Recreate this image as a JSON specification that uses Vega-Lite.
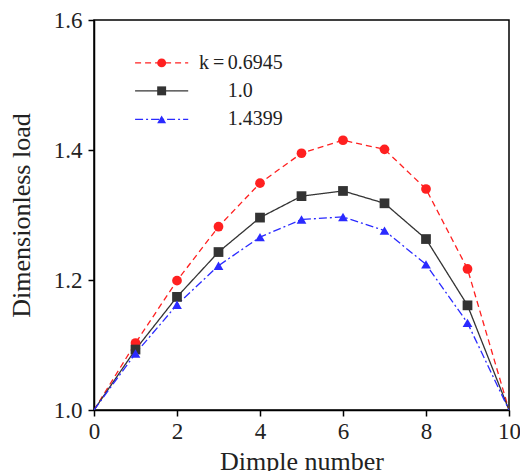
{
  "$schema": "https://vega.github.io/schema/vega-lite/v6.json",
  "width": 415,
  "height": 390,
  "autosize": {"type": "none"},
  "padding": {"left": 94, "top": 20, "right": 11, "bottom": 61},
  "background": "white",
  "config": {
    "font": "Liberation Serif",
    "view": {"stroke": "black", "strokeWidth": 1.5},
    "axis": {
      "grid": false,
      "ticks": true,
      "domainColor": "black",
      "domainWidth": 1.5,
      "tickColor": "black",
      "tickOpacity": 1,
      "tickWidth": 1.5,
      "tickSize": 6,
      "labelFlush": false,
      "labelFont": "Liberation Serif",
      "labelFontSize": 23,
      "labelColor": "#222",
      "titleFont": "Liberation Serif",
      "titleFontSize": 26,
      "titleFontWeight": "normal",
      "titleColor": "#222"
    }
  },
  "datasets": {
    "curves": [
      {"series": "0.6945", "dimple": 0, "load": 1.0},
      {"series": "0.6945", "dimple": 1, "load": 1.103},
      {"series": "0.6945", "dimple": 2, "load": 1.199},
      {"series": "0.6945", "dimple": 3, "load": 1.282},
      {"series": "0.6945", "dimple": 4, "load": 1.349},
      {"series": "0.6945", "dimple": 5, "load": 1.395},
      {"series": "0.6945", "dimple": 6, "load": 1.415},
      {"series": "0.6945", "dimple": 7, "load": 1.401},
      {"series": "0.6945", "dimple": 8, "load": 1.340},
      {"series": "0.6945", "dimple": 9, "load": 1.217},
      {"series": "0.6945", "dimple": 10, "load": 1.0},
      {"series": "1.0", "dimple": 0, "load": 1.0},
      {"series": "1.0", "dimple": 1, "load": 1.093},
      {"series": "1.0", "dimple": 2, "load": 1.174},
      {"series": "1.0", "dimple": 3, "load": 1.243},
      {"series": "1.0", "dimple": 4, "load": 1.296},
      {"series": "1.0", "dimple": 5, "load": 1.329},
      {"series": "1.0", "dimple": 6, "load": 1.337},
      {"series": "1.0", "dimple": 7, "load": 1.318},
      {"series": "1.0", "dimple": 8, "load": 1.263},
      {"series": "1.0", "dimple": 9, "load": 1.161},
      {"series": "1.0", "dimple": 10, "load": 1.0},
      {"series": "1.4399", "dimple": 0, "load": 1.0},
      {"series": "1.4399", "dimple": 1, "load": 1.087},
      {"series": "1.4399", "dimple": 2, "load": 1.162},
      {"series": "1.4399", "dimple": 3, "load": 1.222},
      {"series": "1.4399", "dimple": 4, "load": 1.266},
      {"series": "1.4399", "dimple": 5, "load": 1.293},
      {"series": "1.4399", "dimple": 6, "load": 1.297},
      {"series": "1.4399", "dimple": 7, "load": 1.276},
      {"series": "1.4399", "dimple": 8, "load": 1.224},
      {"series": "1.4399", "dimple": 9, "load": 1.134},
      {"series": "1.4399", "dimple": 10, "load": 1.0}
    ],
    "key": [
      {"series": "0.6945", "x1": 0.99, "x2": 2.27, "xm": 1.63, "y": 1.534, "label": "0.6945"},
      {"series": "1.0", "x1": 0.99, "x2": 2.27, "xm": 1.63, "y": 1.491, "label": "1.0"},
      {"series": "1.4399", "x1": 0.99, "x2": 2.27, "xm": 1.63, "y": 1.447, "label": "1.4399"}
    ]
  },
  "layer": [
    {
      "data": {"name": "curves"},
      "mark": {"type": "line", "strokeWidth": 1.3, "clip": true},
      "encoding": {
        "x": {
          "field": "dimple", "type": "quantitative",
          "scale": {"domain": [0, 10], "nice": false},
          "axis": {"values": [0, 2, 4, 6, 8, 10], "format": "d", "title": "Dimple number", "titlePadding": 5, "labelPadding": 4}
        },
        "y": {
          "field": "load", "type": "quantitative",
          "scale": {"domain": [1.0, 1.6], "nice": false, "zero": false},
          "axis": {"values": [1.0, 1.2, 1.4, 1.6], "format": ".1f", "title": "Dimensionless load", "titlePadding": 19, "labelPadding": 6}
        },
        "color": {
          "field": "series", "type": "nominal",
          "scale": {"domain": ["0.6945", "1.0", "1.4399"], "range": ["#ff2020", "#333333", "#2a2aff"]},
          "legend": null
        },
        "strokeDash": {
          "field": "series", "type": "nominal",
          "scale": {"domain": ["0.6945", "1.0", "1.4399"], "range": [[6, 4], [1, 0], [8, 3, 2, 3]]},
          "legend": null
        }
      }
    },
    {
      "data": {"name": "curves"},
      "transform": [{"filter": "datum.dimple > 0 && datum.dimple < 10"}],
      "mark": {"type": "point", "filled": true, "opacity": 1, "size": 95},
      "encoding": {
        "x": {"field": "dimple", "type": "quantitative"},
        "y": {"field": "load", "type": "quantitative"},
        "color": {"field": "series", "type": "nominal", "legend": null},
        "shape": {
          "field": "series", "type": "nominal",
          "scale": {"domain": ["0.6945", "1.0", "1.4399"], "range": ["circle", "square", "triangle-up"]},
          "legend": null
        }
      }
    },
    {
      "data": {"name": "key"},
      "mark": {"type": "rule", "strokeWidth": 1.3},
      "encoding": {
        "x": {"field": "x1", "type": "quantitative"},
        "x2": {"field": "x2"},
        "y": {"field": "y", "type": "quantitative"},
        "color": {"field": "series", "type": "nominal", "legend": null},
        "strokeDash": {"field": "series", "type": "nominal", "legend": null}
      }
    },
    {
      "data": {"name": "key"},
      "mark": {"type": "point", "filled": true, "opacity": 1, "size": 80},
      "encoding": {
        "x": {"field": "xm", "type": "quantitative"},
        "y": {"field": "y", "type": "quantitative"},
        "color": {"field": "series", "type": "nominal", "legend": null},
        "shape": {"field": "series", "type": "nominal", "legend": null}
      }
    },
    {
      "data": {"name": "key"},
      "mark": {"type": "text", "align": "left", "baseline": "middle", "fontSize": 20, "color": "#222", "font": "Liberation Serif"},
      "encoding": {
        "x": {"datum": 3.22, "type": "quantitative"},
        "y": {"field": "y", "type": "quantitative"},
        "text": {"field": "label"}
      }
    },
    {
      "data": {"values": [{"sym": "k", "x": 2.53, "y": 1.534, "italic": true}, {"sym": "=", "x": 2.87, "y": 1.534, "italic": false}]},
      "mark": {"type": "text", "align": "left", "baseline": "middle", "fontSize": 20, "color": "#222", "font": "Liberation Serif"},
      "encoding": {
        "x": {"field": "x", "type": "quantitative"},
        "y": {"field": "y", "type": "quantitative"},
        "text": {"field": "sym"},
        "fontStyle": {"condition": {"test": "datum.italic", "value": "italic"}, "value": "normal"}
      }
    }
  ]
}
